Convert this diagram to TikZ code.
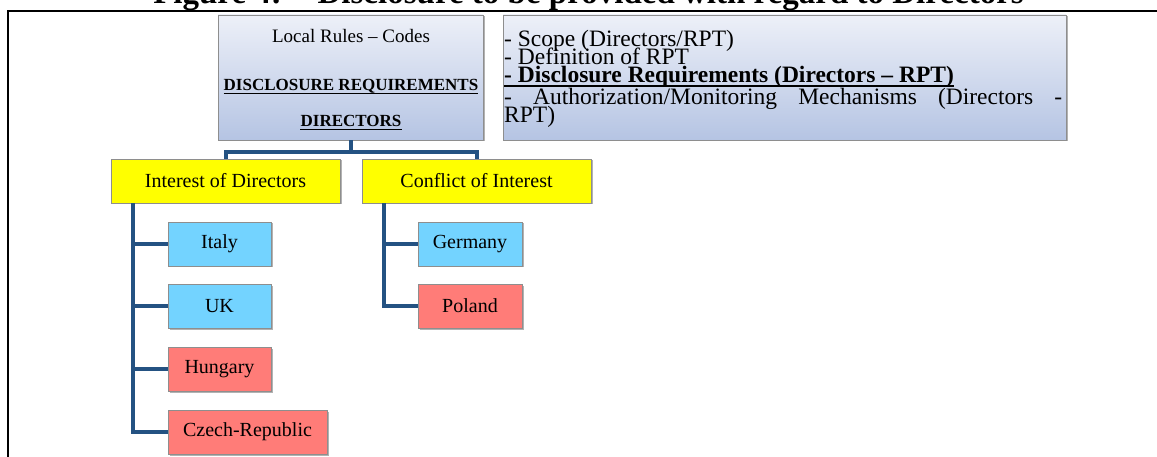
\documentclass[tikz,border=0pt]{standalone}
\usepackage{fontspec}
\setmainfont{Liberation Serif}
\usetikzlibrary{shadows}
\definecolor{gtop}{HTML}{EDF0F8}
\definecolor{gbot}{HTML}{B5C4E3}
\definecolor{bordergray}{HTML}{8E8E8E}
\definecolor{ylw}{HTML}{FFFF00}
\definecolor{sky}{HTML}{73D3FF}
\definecolor{salmon}{HTML}{FF7C78}
\definecolor{conncol}{HTML}{245282}
\tikzset{
  box/.style={draw=bordergray, line width=0.8pt, inner sep=0pt,
    drop shadow={shadow xshift=1.5pt, shadow yshift=-1.5pt, fill=black, opacity=0.3}},
  headbox/.style={box, top color=gtop, bottom color=gbot},
  catbox/.style={box, fill=ylw, minimum width=229pt, minimum height=44pt,
    font=\fontsize{20pt}{24pt}\selectfont},
  ctrybox/.style={box, minimum height=44pt, font=\fontsize{20pt}{24pt}\selectfont},
  bluebox/.style={ctrybox, fill=sky},
  redbox/.style={ctrybox, fill=salmon},
  conn/.style={draw=conncol, line width=4pt},
  lbl/.style={inner sep=0pt, anchor=base},
  rtxt/.style={inner sep=0pt, anchor=base west, font=\fontsize{23.5pt}{26pt}\selectfont},
  uline/.style={line width=1.2pt},
}
\begin{document}
\begin{tikzpicture}[x=1pt,y=-1pt]
\useasboundingbox (0,0) rectangle (1157,457);
\clip (0,0) rectangle (1157,457);
\fill[white] (0,0) rectangle (1157,457);

% title (cut off at the top)
\node[lbl, font=\bfseries\fontsize{33pt}{36pt}\selectfont] (title) at (588.5,3.5)
  {Figure 4: – Disclosure to be provided with regard to Directors};
\draw[line width=2pt] (1160,11) -- (8,11) -- (8,460);

% header boxes
\node[headbox, minimum width=265pt, minimum height=125pt] (rules) at (350.5,77.5) {};
\node[lbl, font=\fontsize{19pt}{21pt}\selectfont] (t1) at (351,42.5) {Local Rules – Codes};
\node[lbl, font=\bfseries\fontsize{17pt}{20pt}\selectfont] (t2) at (351,91) {DISCLOSURE REQUIREMENTS};
\node[lbl, font=\bfseries\fontsize{17pt}{20pt}\selectfont] (t3) at (351,127) {DIRECTORS};
\draw[uline] ([yshift=-2.5pt]t2.base west) -- ([yshift=-2.5pt]t2.base east);
\draw[uline] ([yshift=-2.5pt]t3.base west) -- ([yshift=-2.5pt]t3.base east);

\node[headbox, minimum width=563pt, minimum height=125pt] (scope) at (784.5,77.5) {};
\node[rtxt] (s1) at (504,46.5) {- Scope (Directors/RPT)};
\node[rtxt] (s2) at (504,65) {- Definition of RPT};
\node[rtxt, font=\bfseries\fontsize{23.5pt}{26pt}\selectfont] (s3) at (504,83) {- Disclosure Requirements (Directors – RPT)};
\draw[uline] ([yshift=-3pt]s3.base west) -- ([yshift=-3pt]s3.base east);
\node[rtxt] (s4) at (504,105) {\hbox to 558pt{-\hfill Authorization/Monitoring\hfill Mechanisms\hfill (Directors\hfill -}};
\node[rtxt] (s5) at (504,123) {RPT)};

% categories
\node[catbox] (interest) at (225.5,181) {Interest of Directors};
\node[catbox] (conflict) at (476.5,181) {Conflict of Interest};
\coordinate (bus) at (350.5,152);
\draw[conn] (rules.south) -- (bus);
\draw[conn] (interest.north) |- (bus) -| (conflict.north);

% countries
\node[bluebox, minimum width=103pt] (italy) at (219.5,244) {Italy};
\node[bluebox, minimum width=103pt] (uk) at (219.5,306) {UK};
\node[redbox, minimum width=103pt] (hungary) at (219.5,369) {Hungary};
\node[redbox, minimum width=159pt] (czech) at (247.5,432) {Czech-Republic};
\node[bluebox, minimum width=104pt] (germany) at (470,244) {Germany};
\node[redbox, minimum width=104pt] (poland) at (470,306) {Poland};

\coordinate (lroot) at ([xshift=22pt]interest.south west);
\draw[conn] (lroot) |- (czech.west);
\foreach \n in {italy,uk,hungary} \draw[conn] (lroot |- \n.west) -- (\n.west);
\coordinate (rroot) at ([xshift=22pt]conflict.south west);
\draw[conn] (rroot) |- (poland.west);
\draw[conn] (rroot |- germany.west) -- (germany.west);
\end{tikzpicture}
\end{document}
